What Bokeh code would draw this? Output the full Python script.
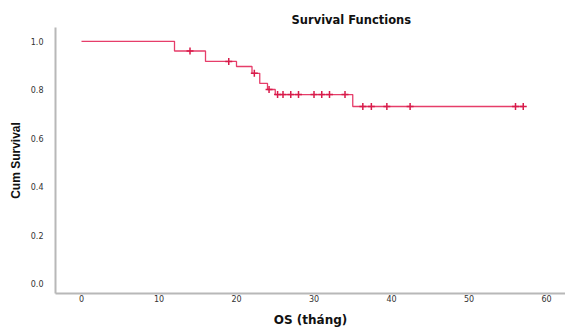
from bokeh.plotting import figure
from bokeh.models import Range1d, FixedTicker, PrintfTickFormatter
from bokeh.embed import file_html
from bokeh.resources import INLINE

# Kaplan-Meier step values
event_times = [0, 12, 16, 20, 22, 23, 24, 25, 35, 57]
survival = [1.0, 0.960, 0.917, 0.896, 0.868, 0.826, 0.801, 0.780, 0.731, 0.731]

# censored observations
censor_times = [14, 19, 22.3, 24.2, 25.3, 26, 27, 28, 30, 31, 32, 34, 36.3, 37.4, 39.4, 42.4, 56, 57]
censor_surv = [0.960, 0.917, 0.868, 0.801, 0.780, 0.780, 0.780, 0.780, 0.780, 0.780, 0.780, 0.780,
               0.731, 0.731, 0.731, 0.731, 0.731, 0.731]

x_ticks = [0, 10, 20, 30, 40, 50, 60]
y_ticks = [0.0, 0.2, 0.4, 0.6, 0.8, 1.0]

p = figure(width=565, height=329, output_backend="svg", toolbar_location=None,
           x_range=Range1d(-3.355, 62.45), y_range=Range1d(-0.041, 1.057),
           min_border_left=55, min_border_right=0, min_border_top=27, min_border_bottom=0)

p.title.text = "Survival Functions"
p.title.text_font = "DejaVu Sans"
p.title.text_font_size = "11.5px"
p.title.text_font_style = "bold"
p.title.text_color = "#111111"
p.title.align = "left"
p.title.offset = 236
p.title.standoff = 2

p.step(event_times, survival, mode="after", line_color="#e63d6a", line_width=1.3)
p.scatter(censor_times, censor_surv, marker="cross", size=7, line_color="#d81b4a", line_width=1.5)

p.xgrid.visible = False
p.ygrid.visible = False
p.outline_line_color = None

for ax in (p.xaxis[0], p.yaxis[0]):
    ax.axis_line_color = "#b8b8b8"
    ax.axis_line_width = 2
    ax.major_tick_line_color = None
    ax.minor_tick_line_color = None
    ax.major_label_text_font = "DejaVu Sans"
    ax.major_label_text_font_size = "8px"
    ax.major_label_text_color = "#333333"
    ax.axis_label_text_font_style = "bold"
    ax.axis_label_text_color = "#111111"

p.xaxis.ticker = FixedTicker(ticks=x_ticks)
p.yaxis.ticker = FixedTicker(ticks=y_ticks)
p.yaxis.formatter = PrintfTickFormatter(format="%.1f")

p.xaxis.axis_label = "OS (tháng)"
p.xaxis.axis_label_text_font = "DejaVu Sans"
p.xaxis.axis_label_text_font_size = "12px"
p.xaxis.major_label_standoff = -5
p.xaxis.axis_label_standoff = 8

p.yaxis.axis_label = "Cum Survival"
p.yaxis.axis_label_text_font = "Liberation Sans"
p.yaxis.axis_label_text_font_size = "12px"
p.yaxis.major_label_standoff = 6
p.yaxis.axis_label_standoff = 5

open("out.html", "w").write(file_html(p, INLINE))
